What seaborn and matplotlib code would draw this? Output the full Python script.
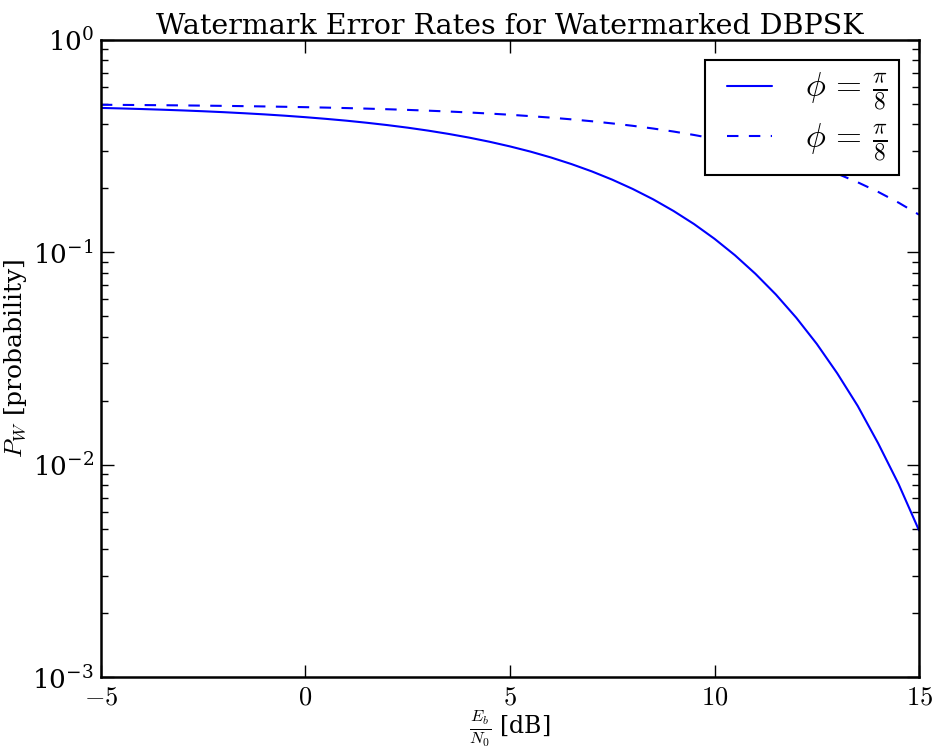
import numpy as np
import pandas as pd
import matplotlib
matplotlib.use("Agg")
import matplotlib.pyplot as plt
import seaborn as sns

# Eb/N0 in dB and read-off watermark error probabilities
ebn0_db = [-5, -4.5, -4, -3.5, -3, -2.5, -2, -1.5, -1, -0.5,
           0, 0.5, 1, 1.5, 2, 2.5, 3, 3.5, 4, 4.5,
           5, 5.5, 6, 6.5, 7, 7.5, 8, 8.5, 9, 9.5,
           10, 10.5, 11, 11.5, 12, 12.5, 13, 13.5, 14, 14.5, 15]

pw_solid = [0.4774, 0.4747, 0.4717, 0.4683, 0.4646, 0.4605, 0.4559, 0.4507, 0.4451, 0.4388,
            0.4318, 0.4241, 0.4158, 0.4065, 0.3964, 0.3854, 0.3733, 0.3602, 0.3461, 0.3309,
            0.3146, 0.2974, 0.2791, 0.2599, 0.2400, 0.2194, 0.1984, 0.1773, 0.1562, 0.1356,
            0.1156, 0.0967, 0.0791, 0.0632, 0.0491, 0.0370, 0.0269, 0.0189, 0.0126, 0.0081, 0.0049]

pw_dashed = [0.4940, 0.4933, 0.4925, 0.4916, 0.4906, 0.4894, 0.4881, 0.4867, 0.4851, 0.4833,
             0.4813, 0.4791, 0.4766, 0.4738, 0.4707, 0.4673, 0.4634, 0.4592, 0.4544, 0.4491,
             0.4433, 0.4367, 0.4297, 0.4218, 0.4132, 0.4036, 0.3933, 0.3819, 0.3696, 0.3561,
             0.3417, 0.3262, 0.3096, 0.2921, 0.2735, 0.2541, 0.2340, 0.2133, 0.1922, 0.1710, 0.1501]

labels = [r"$\phi\,=\,\frac{\pi}{8}$", r"$\phi\,=\,\frac{\pi}{8}$"]
xticks = [-5, 0, 5, 10, 15]

df = pd.DataFrame({"ebn0": ebn0_db, "solid": pw_solid, "dashed": pw_dashed})

sns.set_style("ticks")
plt.rcParams["font.family"] = ["DejaVu Serif"]
plt.rcParams["mathtext.fontset"] = "cm"
plt.rcParams["xtick.direction"] = "in"
plt.rcParams["ytick.direction"] = "in"
plt.rcParams["xtick.top"] = True
plt.rcParams["ytick.right"] = True
for k in ["text.color", "axes.labelcolor", "xtick.color", "ytick.color", "axes.edgecolor"]:
    plt.rcParams[k] = "black"

fig = plt.figure(figsize=(9.34, 7.49), dpi=100)
ax = fig.add_axes([0.108, 0.096, 0.876, 0.851])

sns.lineplot(data=df, x="ebn0", y="solid", color="#0000ff", lw=1.5,
             label=labels[0], ax=ax)
sns.lineplot(data=df, x="ebn0", y="dashed", color="#0000ff", lw=1.5,
             dashes=False, label=labels[1], ax=ax)
ax.lines[1].set_dashes((5.5, 5))

ax.set_yscale("log")
ax.set_xlim(-5, 15)
ax.set_ylim(1e-3, 1)
ax.set_xticks(xticks)
ax.set_xticklabels([r"$%d$" % t if t >= 0 else r"$-%d$" % -t for t in xticks])

ax.tick_params(which="major", length=9, width=1, labelsize=19, pad=5)
ax.tick_params(which="minor", length=5, width=1)
for s in ax.spines.values():
    s.set_linewidth(1.8)

ax.set_title("Watermark Error Rates for Watermarked DBPSK", fontsize=20.5, pad=4)
ax.set_xlabel(r"$\frac{E_b}{N_0}$ [dB]", fontsize=17, labelpad=0)
ax.set_ylabel(r"$P_W$ [probability]", fontsize=18, labelpad=2)

leg = ax.legend(loc="upper right", fontsize=24, fancybox=False, framealpha=1,
                edgecolor="black", handlelength=1.35, handletextpad=1.3,
                borderpad=0.35, labelspacing=0.25, borderaxespad=0.6)
leg.get_frame().set_linewidth(1.5)
# push the handles a bit to the right, like the original legend
for ln in leg.get_lines():
    ln.set_xdata(np.asarray(ln.get_xdata()) + 7.5)

fig.savefig("out.png", dpi=100)
